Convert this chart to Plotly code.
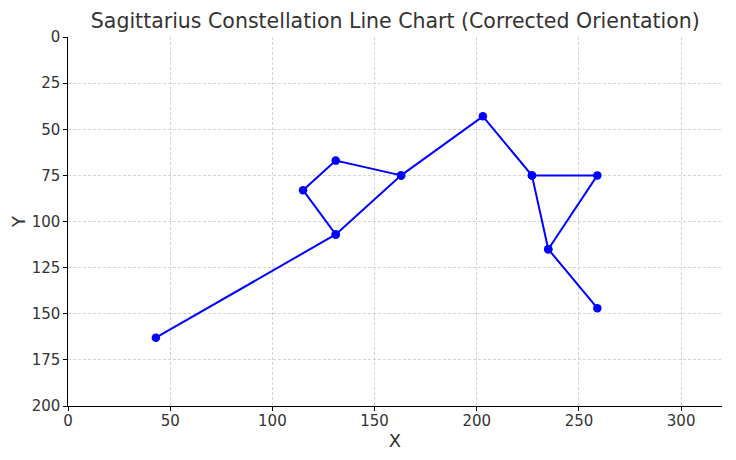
import plotly.graph_objects as go

# Star coordinates (path with revisits to draw all segments)
x_vals = [43, 131, 115, 131, 163, 131, 163, 203, 227, 259, 235, 227, 235, 259]
y_vals = [163, 107, 83, 67, 75, 107, 75, 43, 75, 75, 115, 75, 115, 147]

x_ticks = [0, 50, 100, 150, 200, 250, 300]
y_ticks = [0, 25, 50, 75, 100, 125, 150, 175, 200]

fig = go.Figure()
fig.add_trace(go.Scatter(
    x=x_vals, y=y_vals, mode="lines+markers",
    line=dict(color="#0000ff", width=2),
    marker=dict(color="#0000ff", size=8.5),
    showlegend=False,
))

font = "DejaVu Sans"
# page body has an 8px margin; compensate so the plot area lands where the reference has it
fig.update_layout(
    width=728, height=452,
    margin=dict(l=60, r=14, t=29, b=54, autoexpand=False),
    paper_bgcolor="white", plot_bgcolor="white",
    font=dict(family=font, size=15, color="#333333"),
    title=dict(text="Sagittarius Constellation Line Chart (Corrected Orientation)",
               x=0.532, xanchor="center", y=0.988, yanchor="top",
               font=dict(size=20.5, color="#333333")),
)
fig.update_xaxes(
    range=[0, 320], tickvals=x_ticks, title=dict(text="X", standoff=0),
    showline=True, linecolor="black", linewidth=1.2,
    ticks="outside", ticklen=3.5, tickcolor="black", ticklabelstandoff=-3,
    showgrid=True, gridcolor="#d4d4d4", griddash="3px,2px", gridwidth=0.8,
    zeroline=False, mirror=False, automargin=False,
)
fig.update_yaxes(
    range=[200, 0], tickvals=y_ticks, title=dict(text="Y", standoff=3),
    showline=True, linecolor="black", linewidth=1.2,
    ticks="outside", ticklen=3.5, tickcolor="black",
    showgrid=True, gridcolor="#d4d4d4", griddash="3px,2px", gridwidth=0.8,
    zeroline=False, mirror=False, automargin=False,
)

fig.write_html("out.html")
